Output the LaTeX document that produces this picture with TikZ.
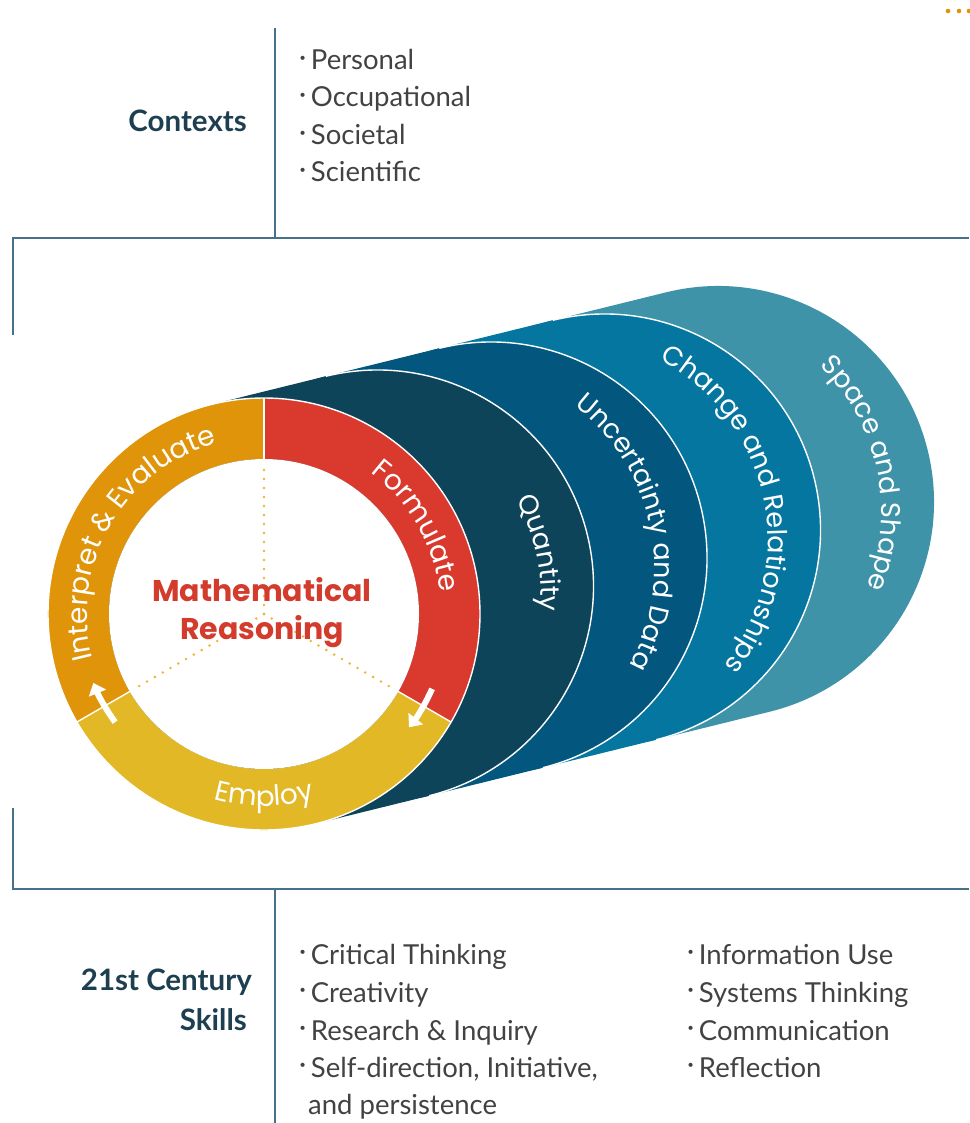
\documentclass[tikz,border=0pt]{standalone}
\usepackage{fontspec}
\setmainfont{Lato}
\newfontfamily\ringfont{Poppins}
\usetikzlibrary{calc,decorations.text,arrows.meta}

\definecolor{frameblue}{HTML}{45728A}
\definecolor{ctxteal}{HTML}{1D3F50}
\definecolor{listgray}{HTML}{424242}
\definecolor{ieorange}{HTML}{E0940A}
\definecolor{formred}{HTML}{DA3A2E}
\definecolor{empyellow}{HTML}{E3B826}
\definecolor{quantnavy}{HTML}{0D4459}
\definecolor{uncblue}{HTML}{03567E}
\definecolor{chgblue}{HTML}{0576A0}
\definecolor{spteal}{HTML}{3F93A8}
\definecolor{mrred}{HTML}{D33C2D}
\definecolor{dotyellow}{HTML}{EDB53A}

\newcommand{\itemdot}{\raisebox{0.14em}{·}\,}

\begin{document}
\begin{tikzpicture}
[
x=1pt, y=1pt,
framel/.style={draw=frameblue, line width=2pt},
headtxt/.style={inner sep=0pt, text=ctxteal, font=\fontsize{29.5}{34}\selectfont\bfseries},
itemtxt/.style={inner sep=0pt, anchor=base west, text=listgray, font=\fontsize{27.5}{32}\selectfont},
sepline/.style={draw=white, line width=1.4pt},
dotline/.style={draw=dotyellow, line width=2.8pt, line cap=round, dash pattern=on 0pt off 9pt},
ringarrow/.style={color=white, line width=6pt, -{Triangle[width=18pt,length=11pt]}},
mrtxt/.style={text=mrred, align=center, font=\ringfont\fontsize{30}{38}\selectfont\bfseries},
ringlbl/.style={decorate, decoration={text along path, text align=center, text color=white,
  text={|\ringfont\fontsize{28}{34}\selectfont|#1}}},
disklbl/.style={decorate, decoration={text along path, text align=center, text color=white,
  text={|\ringfont\fontsize{27}{32}\selectfont|#1}}},
]
\useasboundingbox (0,0) rectangle (969,-1123);

% frame
\draw[framel] (275,-28) -- (275,-238);
\draw[framel] (13,-335) -- (13,-238) -- (969,-238);
\draw[framel] (13,-808) -- (13,-889) -- (969,-889);
\draw[framel] (275,-889) -- (275,-1123);
\fill[ieorange] (948,-11) circle[radius=2.3] (959,-11) circle[radius=2.3] (969,-11) circle[radius=2.3];

% contexts
\node[headtxt, anchor=base east] (ctxhead) at (247,-132) {Contexts};
\node[itemtxt] (ctx1) at (299,-70)  {\itemdot Personal};
\node[itemtxt] (ctx2) at (299,-107) {\itemdot Occupational};
\node[itemtxt] (ctx3) at (299,-145) {\itemdot Societal};
\node[itemtxt] (ctx4) at (299,-182) {\itemdot Scientific};

% disc centres
\coordinate (fc) at (264,-614);
\coordinate (qc) at (377.5,-586);
\coordinate (uc) at (491,-558);
\coordinate (cc) at (604.5,-530);
\coordinate (sc) at (718,-502);
\coordinate (qt) at (337.8,-595.8);
\coordinate (ut) at (451.3,-567.8);
\coordinate (ct) at (564.8,-539.8);
\coordinate (st) at (678.3,-511.8);

\fill[spteal] ($(cc)+(103.86:216)$) -- ($(sc)+(103.86:216)$) arc[start angle=103.86, end angle=-76.14, radius=216]
  -- ($(cc)+(-76.14:216)$) arc[start angle=-76.14, end angle=-256.14, radius=216] -- cycle;
\fill[chgblue] ($(uc)+(103.86:216)$) -- ($(cc)+(103.86:216)$) arc[start angle=103.86, end angle=-76.14, radius=216]
  -- ($(uc)+(-76.14:216)$) arc[start angle=-76.14, end angle=-256.14, radius=216] -- cycle;
\draw[sepline] ($(cc)+(103.86:216)$) arc[start angle=103.86, end angle=-76.14, radius=216];
\fill[uncblue] ($(qc)+(103.86:216)$) -- ($(uc)+(103.86:216)$) arc[start angle=103.86, end angle=-76.14, radius=216]
  -- ($(qc)+(-76.14:216)$) arc[start angle=-76.14, end angle=-256.14, radius=216] -- cycle;
\draw[sepline] ($(uc)+(103.86:216)$) arc[start angle=103.86, end angle=-76.14, radius=216];
\fill[quantnavy] ($(fc)+(103.86:216)$) -- ($(qc)+(103.86:216)$) arc[start angle=103.86, end angle=-76.14, radius=216]
  -- ($(fc)+(-76.14:216)$) arc[start angle=-76.14, end angle=-256.14, radius=216] -- cycle;
\draw[sepline] ($(qc)+(103.86:216)$) arc[start angle=103.86, end angle=-76.14, radius=216];

\path[disklbl={Quantity}] ($(qt)+(82:203)$) arc[start angle=82, end angle=-58, radius=203];
\path[disklbl={Uncertainty and Data}] ($(ut)+(82:203)$) arc[start angle=82, end angle=-58, radius=203];
\path[disklbl={Change and Relationships}] ($(ct)+(82:203)$) arc[start angle=82, end angle=-58, radius=203];
\path[disklbl={Space and Shape}] ($(st)+(82:203)$) arc[start angle=82, end angle=-58, radius=203];

% ring
\fill[formred] ($(fc)+(90:216)$) arc[start angle=90, end angle=-30, radius=216]
  -- ($(fc)+(-30:155)$) arc[start angle=-30, end angle=90, radius=155] -- cycle;
\fill[empyellow] ($(fc)+(-30:216)$) arc[start angle=-30, end angle=-150, radius=216]
  -- ($(fc)+(-150:155)$) arc[start angle=-150, end angle=-30, radius=155] -- cycle;
\fill[ieorange] ($(fc)+(210:216)$) arc[start angle=210, end angle=90, radius=216]
  -- ($(fc)+(90:155)$) arc[start angle=90, end angle=210, radius=155] -- cycle;
\fill[white] (fc) circle[radius=155];
\draw[sepline] (fc) circle[radius=216];
\draw[sepline] ($(fc)+(90:155)$) -- ($(fc)+(90:216)$);
\draw[sepline] ($(fc)+(-30:155)$) -- ($(fc)+(-30:216)$);
\draw[sepline] ($(fc)+(210:155)$) -- ($(fc)+(210:216)$);

\draw[dotline] (fc) -- ($(fc)+(90:152)$);
\draw[dotline] (fc) -- ($(fc)+(-30:152)$);
\draw[dotline] (fc) -- ($(fc)+(210:152)$);

\node[mrtxt] (mathr) at (262,-613) {Mathematical\\Reasoning};

\path[ringlbl={Formulate}] ($(fc)+(90:177)$) arc[start angle=90, end angle=-30, radius=177];
\path[ringlbl={Interpret {\&} Evaluate}] ($(fc)+(210:177)$) arc[start angle=210, end angle=90, radius=177];
\path[ringlbl={Employ}] ($(fc)+(210:192)$) arc[start angle=210, end angle=330, radius=192];

\draw[ringarrow] ($(fc)+(-24:184)$) arc[start angle=-24, end angle=-38, radius=184];
\draw[ringarrow] ($(fc)+(216:184)$) arc[start angle=216, end angle=202, radius=184];

% skills
\node[headtxt, anchor=base east] (skhead1) at (252,-990) {21st Century};
\node[headtxt, anchor=base east] (skhead2) at (247,-1030) {Skills};
\node[itemtxt] (sk1) at (299,-964)  {\itemdot Critical Thinking};
\node[itemtxt] (sk2) at (299,-1002) {\itemdot Creativity};
\node[itemtxt] (sk3) at (299,-1040) {\itemdot Research \& Inquiry};
\node[itemtxt] (sk4) at (299,-1077) {\itemdot Self-direction, Initiative,};
\node[itemtxt] (sk5) at (308,-1114) {and persistence};
\node[itemtxt] (sk6) at (687,-964)  {\itemdot Information Use};
\node[itemtxt] (sk7) at (687,-1002) {\itemdot Systems Thinking};
\node[itemtxt] (sk8) at (687,-1040) {\itemdot Communication};
\node[itemtxt] (sk9) at (687,-1077) {\itemdot Reflection};
\end{tikzpicture}
\end{document}
